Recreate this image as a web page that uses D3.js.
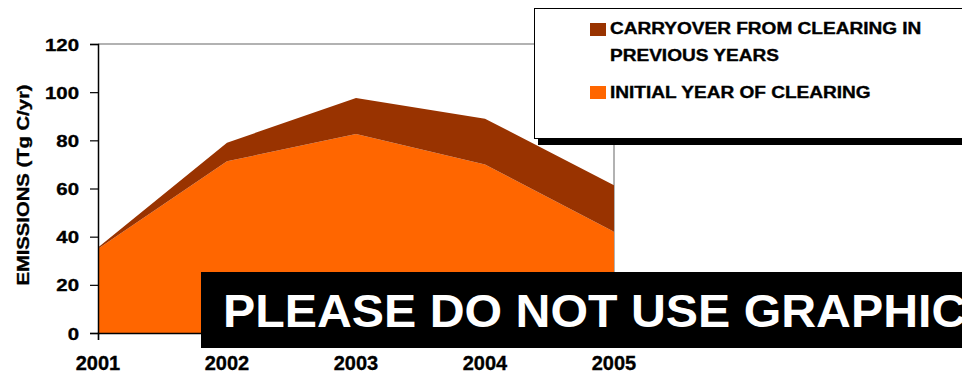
<!DOCTYPE html>
<html>
<head>
<meta charset="utf-8">
<script src="https://cdn.jsdelivr.net/npm/d3@7"></script>
<style>
  html, body { margin: 0; padding: 0; background: #fff; }
  svg { display: block; font-family: "Liberation Sans", Arial, sans-serif; font-weight: bold; }
  .heavy { stroke: #000; stroke-width: 0.35px; }
</style>
</head>
<body>
<svg id="chart" width="962" height="374"></svg>
<script>
// Annual emissions from clearing, Tg C/yr
const years = ["2001", "2002", "2003", "2004", "2005"];
const initialYear = [35, 71.3, 82.6, 70, 42];      // initial year of clearing
const carryover   = [0.5, 7.7, 15, 19, 19.3];      // carryover from clearing in previous years
const yTicks = [0, 20, 40, 60, 80, 100, 120];
const seriesNames = ["CARRYOVER FROM CLEARING IN PREVIOUS YEARS", "INITIAL YEAR OF CLEARING"];
const colors = { carryover: "#993300", initial: "#FF6600" };

const svg = d3.select("#chart");
const plotLeft = 98, plotRight = 614, plotTop = 44, plotBottom = 333;

const x = d3.scalePoint().domain(years).range([plotLeft, plotRight]);
const y = d3.scaleLinear().domain([0, 120]).range([plotBottom, plotTop]);

// widen text horizontally (the chart's type is set wide)
function widen(sel, k) {
  sel.each(function () {
    const w = this.getComputedTextLength();
    d3.select(this).attr("textLength", w * k).attr("lengthAdjust", "spacingAndGlyphs");
  });
}

const table = years.map((yr, i) => ({ year: yr, initial: initialYear[i], carryover: carryover[i] }));
const stack = d3.stack().keys(["initial", "carryover"]);
const layers = stack(table);

// plot frame (top and right)
svg.append("path")
  .attr("d", `M${plotLeft},${plotTop}H${plotRight}V${plotBottom}`)
  .attr("fill", "none").attr("stroke", "#999").attr("stroke-width", 1.5);

const area = d3.area()
  .x(d => x(d.data.year))
  .y0(d => y(d[0]))
  .y1(d => y(d[1]));

svg.append("g").selectAll("path")
  .data(layers)
  .join("path")
  .attr("d", area)
  .attr("fill", d => colors[d.key]);

// y axis
const yAxis = svg.append("g")
  .attr("transform", `translate(${plotLeft},0)`)
  .call(d3.axisLeft(y).tickValues(yTicks).tickSize(8).tickPadding(11).tickFormat(d3.format("d")));
yAxis.select(".domain").attr("stroke", "#000").attr("stroke-width", 1.5);
yAxis.selectAll(".tick line").attr("stroke", "#000").attr("stroke-width", 1.2);
yAxis.selectAll("text")
  .attr("class", "heavy")
  .attr("font-size", 17).attr("font-family", "Liberation Sans, Arial, sans-serif")
  .attr("font-weight", "bold").attr("fill", "#000").attr("dy", "0.36em");
widen(yAxis.selectAll("text"), 1.2);

// x axis
const xAxis = svg.append("g")
  .attr("transform", `translate(0,${plotBottom})`)
  .call(d3.axisBottom(x).tickSize(7).tickPadding(0).tickFormat(() => ""));
xAxis.select(".domain").attr("stroke", "#000").attr("stroke-width", 1.5);
xAxis.selectAll(".tick line").attr("stroke", "#000").attr("stroke-width", 1.2);

svg.append("g").selectAll("text")
  .data(years)
  .join("text")
  .attr("class", "heavy")
  .attr("x", d => x(d))
  .attr("y", 370)
  .attr("text-anchor", "middle")
  .attr("font-size", 20)
  .attr("fill", "#000")
  .text(d => d);

// y axis title
const yTitle = svg.append("text")
  .attr("class", "heavy")
  .attr("transform", "translate(29,185) rotate(-90)")
  .attr("text-anchor", "middle")
  .attr("font-size", 17)
  .attr("fill", "#000")
  .text("EMISSIONS (Tg C/yr)");
widen(yTitle, 1.19);

// legend with drop shadow
const lg = svg.append("g");
lg.append("rect").attr("x", 538).attr("y", 15).attr("width", 440).attr("height", 130).attr("fill", "#000");
lg.append("rect").attr("x", 534.5).attr("y", 8.5).attr("width", 440).attr("height", 130)
  .attr("fill", "#fff").attr("stroke", "#000").attr("stroke-width", 1);

lg.append("rect").attr("x", 590).attr("y", 23).attr("width", 16).attr("height", 13).attr("fill", colors.carryover);
lg.append("rect").attr("x", 590).attr("y", 86).attr("width", 16).attr("height", 13).attr("fill", colors.initial);

const legendLines = [
  { text: "CARRYOVER FROM CLEARING IN", y: 34 },
  { text: "PREVIOUS YEARS", y: 61 },
  { text: seriesNames[1], y: 98 }
];
const lgText = lg.selectAll("text.lbl")
  .data(legendLines)
  .join("text")
  .attr("class", "lbl heavy")
  .attr("x", 610)
  .attr("y", d => d.y)
  .attr("font-size", 16)
  .attr("fill", "#000")
  .text(d => d.text);
widen(lgText, 1.19);

// notice banner
svg.append("rect").attr("x", 201).attr("y", 272).attr("width", 770).attr("height", 76).attr("fill", "#000");
const notice = svg.append("text")
  .attr("x", 223).attr("y", 327)
  .attr("font-size", 46)
  .attr("fill", "#fff")
  .text("PLEASE DO NOT USE GRAPHICS");
widen(notice, 1.05);
</script>
</body>
</html>
